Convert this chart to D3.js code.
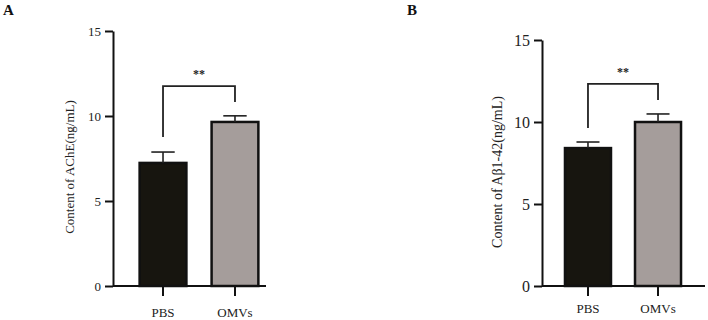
<!DOCTYPE html>
<html>
<head>
<meta charset="utf-8">
<script src="https://cdn.jsdelivr.net/npm/d3@7"></script>
<style>
  body { margin: 0; background: #fff; }
  svg { display: block; font-family: "Liberation Serif", "Times New Roman", serif; }
  .domain, .tick line { stroke: #111; stroke-width: 2; }
</style>
</head>
<body>
<div id="chart"></div>
<script>
// data
const groups = ["PBS", "OMVs"];
const colors = ["#17150f", "#a59d9b"];

const acheMean = [7.24, 9.65];
const acheErr = [0.64, 0.36];

const abetaMean = [8.41, 10.0];
const abetaErr = [0.37, 0.49];

const yTicks = [0, 5, 10, 15];

// significance brackets: [top, left leg end, right leg end]
const acheBracket = [11.76, 8.76, 10.82];
const abetaBracket = [12.32, 9.63, 11.34];
const sigLabel = "**";

const svg = d3.select("#chart").append("svg").attr("width", 708).attr("height", 320);

/**
 * Draws one bar panel with upper error bars and a significance bracket.
 */
function drawPanel(cfg) {
  const g = svg.append("g");

  const y = d3.scaleLinear().domain([0, 15]).range([cfg.y0, cfg.y15]);
  const x = d3.scaleBand()
    .domain(groups)
    .range(cfg.xRange)
    .paddingInner(cfg.padIn)
    .paddingOuter(cfg.padOut);

  // bars
  g.selectAll("rect.bar")
    .data(cfg.mean)
    .join("rect")
    .attr("class", "bar")
    .attr("x", (d, i) => x(groups[i]))
    .attr("width", x.bandwidth())
    .attr("y", (d) => y(d))
    .attr("height", (d) => y(0) - y(d))
    .attr("fill", (d, i) => colors[i])
    .attr("stroke", "#111")
    .attr("stroke-width", 2.5);

  // error bars (upper only)
  const cap = x.bandwidth() * 0.25;
  cfg.mean.forEach((m, i) => {
    const cx = x(groups[i]) + x.bandwidth() / 2;
    g.append("line")
      .attr("x1", cx).attr("x2", cx)
      .attr("y1", y(m)).attr("y2", y(m + cfg.err[i]))
      .attr("stroke", "#222").attr("stroke-width", 1.6);
    g.append("line")
      .attr("x1", cx - cap).attr("x2", cx + cap)
      .attr("y1", y(m + cfg.err[i])).attr("y2", y(m + cfg.err[i]))
      .attr("stroke", "#222").attr("stroke-width", 1.6);
  });

  // y axis
  const yAxis = g.append("g")
    .attr("transform", `translate(${cfg.xRange[0]},0)`)
    .call(d3.axisLeft(y).tickValues(yTicks).tickSize(8).tickPadding(4).tickSizeOuter(0));
  yAxis.selectAll("text")
    .attr("font-family", "Liberation Serif")
    .attr("font-size", cfg.tickFont)
    .attr("fill", "#222");

  // x axis
  const xAxis = g.append("g")
    .attr("transform", `translate(0,${cfg.y0})`)
    .call(d3.axisBottom(x).tickSize(10).tickPadding(cfg.labelPad).tickSizeOuter(0));
  xAxis.select(".domain").attr("d", `M${cfg.xRange[0]},0H${cfg.xEnd}`);
  xAxis.selectAll(".tick line").attr("stroke-width", 1.8);
  xAxis.selectAll("text")
    .attr("font-family", "Liberation Serif")
    .attr("font-size", 13)
    .attr("fill", "#222");

  // y title
  g.append("text")
    .attr("transform", `translate(${cfg.titleX},${cfg.titleY}) rotate(-90)`)
    .attr("text-anchor", "middle")
    .attr("font-size", cfg.titleFont)
    .attr("fill", "#222")
    .text(cfg.title);

  // significance bracket
  const bx0 = x(groups[0]) + x.bandwidth() / 2;
  const bx1 = x(groups[1]) + x.bandwidth() / 2;
  const [top, leftEnd, rightEnd] = cfg.bracket;
  g.append("path")
    .attr("d", `M${bx0},${y(leftEnd)}V${y(top)}H${bx1}V${y(rightEnd)}`)
    .attr("fill", "none")
    .attr("stroke", "#222")
    .attr("stroke-width", 1.8);
  g.append("text")
    .attr("x", (bx0 + bx1) / 2)
    .attr("y", y(top) - 8)
    .attr("text-anchor", "middle")
    .attr("font-size", 12)
    .attr("font-weight", "bold")
    .attr("fill", "#222")
    .text(sigLabel);

  // panel letter
  svg.append("text")
    .attr("x", cfg.letterX)
    .attr("y", 15)
    .attr("font-size", 15)
    .attr("font-weight", "bold")
    .attr("fill", "#111")
    .text(cfg.letter);
}

drawPanel({
  letter: "A", letterX: 3,
  mean: acheMean, err: acheErr, bracket: acheBracket,
  y0: 286, y15: 31,
  xRange: [113, 285], xEnd: 266, padIn: 0.35, padOut: 0.37,
  tickFont: 13, labelPad: 12,
  title: "Content of AChE(ng/mL)", titleX: 74, titleY: 167, titleFont: 13,
});

drawPanel({
  letter: "B", letterX: 407,
  mean: abetaMean, err: abetaErr, bracket: abetaBracket,
  y0: 286, y15: 40,
  xRange: [542, 704], xEnd: 705, padIn: 0.343, padOut: 0.328,
  tickFont: 16, labelPad: 8,
  title: "Content of A\u03b21-42(ng/mL)", titleX: 502, titleY: 172, titleFont: 14,
});
</script>
</body>
</html>
